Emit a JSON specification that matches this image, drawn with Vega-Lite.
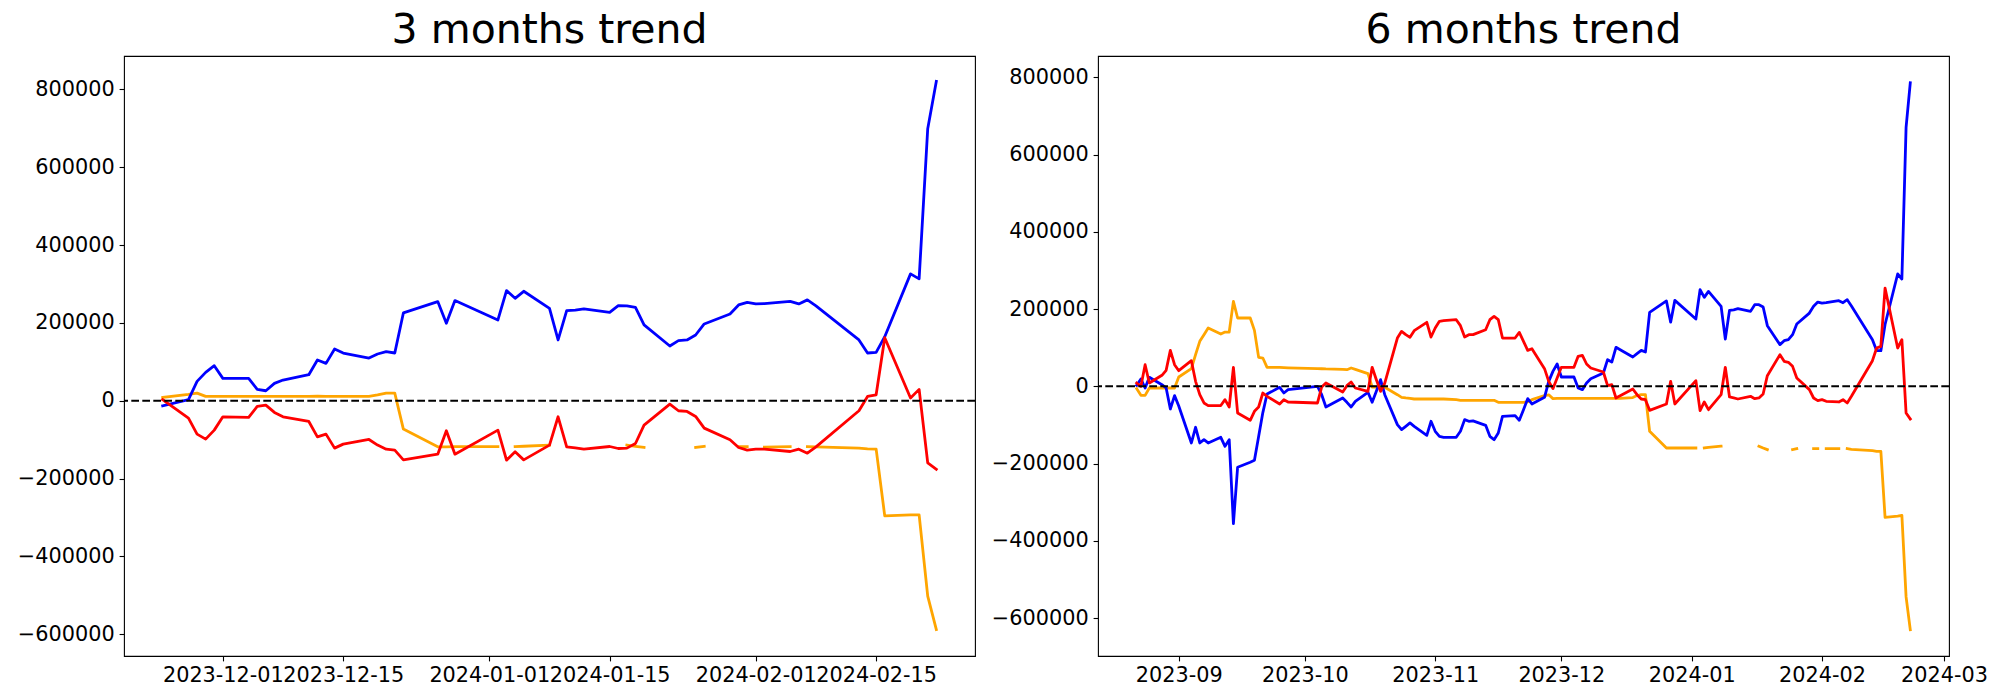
{
  "$schema": "https://vega.github.io/schema/vega-lite/v6.json",
  "background": "white",
  "padding": {"left": 16, "top": 9, "right": 0, "bottom": 0},
  "bounds": "flush",
  "spacing": 123,
  "config": {
    "font": "DejaVu Sans",
    "view": {"stroke": "black", "strokeWidth": 1.1, "fill": "white"},
    "axis": {"domain": false, "grid": false, "labelFont": "DejaVu Sans", "labelFontSize": 20.8, "labelColor": "black", "tickColor": "black", "tickSize": 4.9, "tickWidth": 1.1, "labelPadding": 4.9, "labelFlush": false, "labelOverlap": false, "labelBound": false},
    "title": {"font": "DejaVu Sans", "fontSize": 41, "fontWeight": "normal", "color": "black", "anchor": "middle", "frame": "group", "baseline": "alphabetic", "offset": 4}
  },
  "datasets": {
    "m3": [
      {"date": "2023-11-24", "blue": -13000, "red": 3000, "orange": 8600},
      {"date": "2023-11-27", "blue": 3000, "red": -44600, "orange": 16300},
      {"date": "2023-11-28", "blue": 49800, "red": -85800, "orange": 19700},
      {"date": "2023-11-29", "blue": 72900, "red": -98700, "orange": 11100},
      {"date": "2023-11-30", "blue": 90000, "red": -75500, "orange": 11100},
      {"date": "2023-12-01", "blue": 57500, "red": -41200, "orange": 11100},
      {"date": "2023-12-04", "blue": 57500, "red": -42900, "orange": 11100},
      {"date": "2023-12-05", "blue": 29200, "red": -14600, "orange": 11100},
      {"date": "2023-12-06", "blue": 25700, "red": -11200, "orange": 11100},
      {"date": "2023-12-07", "blue": 44600, "red": -30000, "orange": 11100},
      {"date": "2023-12-08", "blue": 53200, "red": -41200, "orange": 11100},
      {"date": "2023-12-11", "blue": 66900, "red": -53200, "orange": 11100},
      {"date": "2023-12-12", "blue": 104700, "red": -92700, "orange": 11600},
      {"date": "2023-12-13", "blue": 96000, "red": -85800, "orange": 11100},
      {"date": "2023-12-14", "blue": 133000, "red": -121800, "orange": 11100},
      {"date": "2023-12-15", "blue": 122700, "red": -111500, "orange": 11100},
      {"date": "2023-12-18", "blue": 109800, "red": -99500, "orange": 11100},
      {"date": "2023-12-19", "blue": 120100, "red": -114000, "orange": 15000},
      {"date": "2023-12-20", "blue": 126000, "red": -124400, "orange": 19700},
      {"date": "2023-12-21", "blue": 122700, "red": -127000, "orange": 19700},
      {"date": "2023-12-22", "blue": 225700, "red": -151900, "orange": -72900},
      {"date": "2023-12-26", "blue": 254800, "red": -137300, "orange": -118400},
      {"date": "2023-12-27", "blue": 199000, "red": -77200, "orange": -118400},
      {"date": "2023-12-28", "blue": 257400, "red": -137300, "orange": -118000},
      {"date": "2024-01-02", "blue": 207700, "red": -75500, "orange": -118000},
      {"date": "2024-01-03", "blue": 283000, "red": -152700, "orange": null},
      {"date": "2024-01-04", "blue": 263300, "red": -131300, "orange": -118000},
      {"date": "2024-01-05", "blue": 281300, "red": -151900, "orange": -117000},
      {"date": "2024-01-08", "blue": 237600, "red": -114000, "orange": -114000},
      {"date": "2024-01-09", "blue": 156200, "red": -41200, "orange": null},
      {"date": "2024-01-10", "blue": 231700, "red": -118400, "orange": null},
      {"date": "2024-01-11", "blue": 233000, "red": -121000, "orange": null},
      {"date": "2024-01-12", "blue": 236000, "red": -124400, "orange": null},
      {"date": "2024-01-15", "blue": 227300, "red": -117600, "orange": null},
      {"date": "2024-01-16", "blue": 244500, "red": -122700, "orange": null},
      {"date": "2024-01-17", "blue": 243700, "red": -121800, "orange": -114000},
      {"date": "2024-01-18", "blue": 240200, "red": -109800, "orange": -117000},
      {"date": "2024-01-19", "blue": 194800, "red": -62600, "orange": -120000},
      {"date": "2024-01-22", "blue": 140800, "red": -8600, "orange": null},
      {"date": "2024-01-23", "blue": 154400, "red": -25700, "orange": null},
      {"date": "2024-01-24", "blue": 156200, "red": -27500, "orange": null},
      {"date": "2024-01-25", "blue": 169000, "red": -40300, "orange": -120000},
      {"date": "2024-01-26", "blue": 197400, "red": -70300, "orange": -117000},
      {"date": "2024-01-29", "blue": 223100, "red": -100400, "orange": null},
      {"date": "2024-01-30", "blue": 246200, "red": -120100, "orange": -118000},
      {"date": "2024-01-31", "blue": 253000, "red": -127000, "orange": -118000},
      {"date": "2024-02-01", "blue": 248900, "red": -124400, "orange": null},
      {"date": "2024-02-02", "blue": 249700, "red": -124400, "orange": -119000},
      {"date": "2024-02-05", "blue": 255600, "red": -130400, "orange": -118000},
      {"date": "2024-02-06", "blue": 248900, "red": -124400, "orange": null},
      {"date": "2024-02-07", "blue": 259200, "red": -134700, "orange": -118000},
      {"date": "2024-02-08", "blue": 243800, "red": -118400, "orange": -118400},
      {"date": "2024-02-13", "blue": 156200, "red": -25700, "orange": -121800},
      {"date": "2024-02-14", "blue": 122700, "red": 11100, "orange": -123500},
      {"date": "2024-02-15", "blue": 124400, "red": 15400, "orange": -124400},
      {"date": "2024-02-16", "blue": 164700, "red": 162000, "orange": -296000},
      {"date": "2024-02-19", "blue": 326000, "red": 6900, "orange": -293400},
      {"date": "2024-02-20", "blue": 313200, "red": 29200, "orange": -293400},
      {"date": "2024-02-21", "blue": 699300, "red": -159600, "orange": -502000},
      {"date": "2024-02-22", "blue": 821000, "red": -175900, "orange": -587700}
    ],
    "m6": [
      {"date": "2023-08-22", "blue": 2600, "red": 8600, "orange": -6000},
      {"date": "2023-08-23", "blue": 18900, "red": 0, "orange": -23300},
      {"date": "2023-08-24", "blue": -4300, "red": 56000, "orange": -23300},
      {"date": "2023-08-25", "blue": 23300, "red": 8600, "orange": -4300},
      {"date": "2023-08-28", "blue": 4300, "red": 28500, "orange": -4300},
      {"date": "2023-08-29", "blue": -4300, "red": 41400, "orange": -4300},
      {"date": "2023-08-30", "blue": -58600, "red": 93100, "orange": -4300},
      {"date": "2023-08-31", "blue": -24100, "red": 56000, "orange": -4300},
      {"date": "2023-09-01", "blue": -50900, "red": 40500, "orange": 24100},
      {"date": "2023-09-04", "blue": -146600, "red": 66400, "orange": 45700},
      {"date": "2023-09-05", "blue": -106000, "red": 12900, "orange": 82000},
      {"date": "2023-09-06", "blue": -146600, "red": -21600, "orange": 116400},
      {"date": "2023-09-07", "blue": -138000, "red": -43100, "orange": 133700},
      {"date": "2023-09-08", "blue": -146600, "red": -50000, "orange": 150900},
      {"date": "2023-09-11", "blue": -131900, "red": -49600, "orange": 135400},
      {"date": "2023-09-12", "blue": -155200, "red": -34500, "orange": 140500},
      {"date": "2023-09-13", "blue": -138000, "red": -53500, "orange": 140500},
      {"date": "2023-09-14", "blue": -355300, "red": 49200, "orange": 219900},
      {"date": "2023-09-15", "blue": -209500, "red": -69000, "orange": 176800},
      {"date": "2023-09-18", "blue": -196600, "red": -88000, "orange": 176800},
      {"date": "2023-09-19", "blue": -191400, "red": -64700, "orange": 144900},
      {"date": "2023-09-20", "blue": -130000, "red": -53500, "orange": 75000},
      {"date": "2023-09-21", "blue": -68000, "red": -17200, "orange": 73300},
      {"date": "2023-09-22", "blue": -20000, "red": -25900, "orange": 49200},
      {"date": "2023-09-25", "blue": -2600, "red": -45700, "orange": 49200},
      {"date": "2023-09-26", "blue": -17200, "red": -34500, "orange": 48500},
      {"date": "2023-09-27", "blue": -8600, "red": -40500, "orange": 48000},
      {"date": "2023-10-04", "blue": 0, "red": -43100, "orange": 46000},
      {"date": "2023-10-05", "blue": -21600, "red": -1700, "orange": 45500},
      {"date": "2023-10-06", "blue": -53500, "red": 8600, "orange": 45000},
      {"date": "2023-10-10", "blue": -30200, "red": -14700, "orange": 44000},
      {"date": "2023-10-11", "blue": -41400, "red": 1700, "orange": 43100},
      {"date": "2023-10-12", "blue": -53500, "red": 11200, "orange": 47400},
      {"date": "2023-10-13", "blue": -38800, "red": -4300, "orange": 44000},
      {"date": "2023-10-16", "blue": -15500, "red": -12900, "orange": 32800},
      {"date": "2023-10-17", "blue": -41400, "red": 49200, "orange": -1700},
      {"date": "2023-10-18", "blue": -12900, "red": 17200, "orange": -1700},
      {"date": "2023-10-19", "blue": 17200, "red": -12900, "orange": -1700},
      {"date": "2023-10-20", "blue": -21600, "red": 8000, "orange": -2600},
      {"date": "2023-10-23", "blue": -99200, "red": 125000, "orange": -21600},
      {"date": "2023-10-24", "blue": -112100, "red": 142300, "orange": -28500},
      {"date": "2023-10-25", "blue": -103500, "red": 133700, "orange": -30000},
      {"date": "2023-10-26", "blue": -94800, "red": 126800, "orange": -31000},
      {"date": "2023-10-27", "blue": -103500, "red": 144000, "orange": -32800},
      {"date": "2023-10-30", "blue": -126800, "red": 165600, "orange": -32800},
      {"date": "2023-10-31", "blue": -90500, "red": 127600, "orange": -32800},
      {"date": "2023-11-01", "blue": -116400, "red": 150900, "orange": -32800},
      {"date": "2023-11-02", "blue": -129400, "red": 168200, "orange": -32800},
      {"date": "2023-11-03", "blue": -131900, "red": 169900, "orange": -32800},
      {"date": "2023-11-06", "blue": -131900, "red": 172500, "orange": -34500},
      {"date": "2023-11-07", "blue": -116400, "red": 157000, "orange": -36200},
      {"date": "2023-11-08", "blue": -86200, "red": 127600, "orange": -36200},
      {"date": "2023-11-09", "blue": -90500, "red": 133700, "orange": -36200},
      {"date": "2023-11-10", "blue": -89600, "red": 133700, "orange": -36200},
      {"date": "2023-11-13", "blue": -100900, "red": 146600, "orange": -36200},
      {"date": "2023-11-14", "blue": -129400, "red": 172500, "orange": -36200},
      {"date": "2023-11-15", "blue": -138000, "red": 181100, "orange": -36200},
      {"date": "2023-11-16", "blue": -120800, "red": 172500, "orange": -41400},
      {"date": "2023-11-17", "blue": -77600, "red": 125000, "orange": -41400},
      {"date": "2023-11-20", "blue": -75900, "red": 125000, "orange": -41400},
      {"date": "2023-11-21", "blue": -88000, "red": 139700, "orange": -41400},
      {"date": "2023-11-22", "blue": -60400, "red": 116400, "orange": -41400},
      {"date": "2023-11-23", "blue": -31900, "red": 93100, "orange": -40000},
      {"date": "2023-11-24", "blue": -45700, "red": 97400, "orange": -34500},
      {"date": "2023-11-27", "blue": -28500, "red": 45700, "orange": -24000},
      {"date": "2023-11-28", "blue": 12900, "red": 12900, "orange": -22000},
      {"date": "2023-11-29", "blue": 38800, "red": -6000, "orange": -31900},
      {"date": "2023-11-30", "blue": 57800, "red": 21600, "orange": -31000},
      {"date": "2023-12-01", "blue": 24100, "red": 49200, "orange": -31000},
      {"date": "2023-12-04", "blue": 24100, "red": 49200, "orange": -31000},
      {"date": "2023-12-05", "blue": -4300, "red": 77600, "orange": -31000},
      {"date": "2023-12-06", "blue": -8600, "red": 80200, "orange": -31000},
      {"date": "2023-12-07", "blue": 8600, "red": 57800, "orange": -31000},
      {"date": "2023-12-08", "blue": 19800, "red": 47400, "orange": -31000},
      {"date": "2023-12-11", "blue": 34500, "red": 37100, "orange": -31000},
      {"date": "2023-12-12", "blue": 69000, "red": 1700, "orange": -31000},
      {"date": "2023-12-13", "blue": 62900, "red": 4300, "orange": -31000},
      {"date": "2023-12-14", "blue": 100900, "red": -30200, "orange": -31000},
      {"date": "2023-12-15", "blue": 94800, "red": -24100, "orange": -31000},
      {"date": "2023-12-18", "blue": 75900, "red": -6900, "orange": -29000},
      {"date": "2023-12-19", "blue": 84500, "red": -21600, "orange": -24000},
      {"date": "2023-12-20", "blue": 93100, "red": -32800, "orange": -21600},
      {"date": "2023-12-21", "blue": 88800, "red": -34500, "orange": -21600},
      {"date": "2023-12-22", "blue": 191400, "red": -62100, "orange": -116400},
      {"date": "2023-12-26", "blue": 221000, "red": -45700, "orange": -159600},
      {"date": "2023-12-27", "blue": 166000, "red": 12900, "orange": -159600},
      {"date": "2023-12-28", "blue": 222500, "red": -45700, "orange": -159600},
      {"date": "2024-01-02", "blue": 174100, "red": 14700, "orange": -159600},
      {"date": "2024-01-03", "blue": 250100, "red": -62900, "orange": null},
      {"date": "2024-01-04", "blue": 230200, "red": -40500, "orange": -159600},
      {"date": "2024-01-05", "blue": 245800, "red": -60400, "orange": -158000},
      {"date": "2024-01-08", "blue": 207000, "red": -21600, "orange": -155000},
      {"date": "2024-01-09", "blue": 122400, "red": 49200, "orange": null},
      {"date": "2024-01-10", "blue": 196600, "red": -27600, "orange": null},
      {"date": "2024-01-11", "blue": 198000, "red": -30000, "orange": null},
      {"date": "2024-01-12", "blue": 201000, "red": -32800, "orange": null},
      {"date": "2024-01-15", "blue": 194000, "red": -25900, "orange": null},
      {"date": "2024-01-16", "blue": 211300, "red": -31900, "orange": null},
      {"date": "2024-01-17", "blue": 211300, "red": -30000, "orange": -155000},
      {"date": "2024-01-18", "blue": 205200, "red": -19800, "orange": -159600},
      {"date": "2024-01-19", "blue": 157000, "red": 27600, "orange": -163900},
      {"date": "2024-01-22", "blue": 107900, "red": 82000, "orange": null},
      {"date": "2024-01-23", "blue": 118200, "red": 64700, "orange": null},
      {"date": "2024-01-24", "blue": 120800, "red": 62100, "orange": null},
      {"date": "2024-01-25", "blue": 133700, "red": 51700, "orange": -163900},
      {"date": "2024-01-26", "blue": 161200, "red": 21600, "orange": -161300},
      {"date": "2024-01-29", "blue": 189600, "red": -8600, "orange": null},
      {"date": "2024-01-30", "blue": 207000, "red": -30200, "orange": -161300},
      {"date": "2024-01-31", "blue": 218100, "red": -37100, "orange": -161300},
      {"date": "2024-02-01", "blue": 215500, "red": -34500, "orange": null},
      {"date": "2024-02-02", "blue": 216400, "red": -38800, "orange": -161300},
      {"date": "2024-02-05", "blue": 221700, "red": -40500, "orange": -161300},
      {"date": "2024-02-06", "blue": 216400, "red": -34500, "orange": null},
      {"date": "2024-02-07", "blue": 224300, "red": -43100, "orange": -161300},
      {"date": "2024-02-08", "blue": 207800, "red": -25900, "orange": -163000},
      {"date": "2024-02-13", "blue": 120800, "red": 66400, "orange": -166500},
      {"date": "2024-02-14", "blue": 92300, "red": 99200, "orange": -168200},
      {"date": "2024-02-15", "blue": 92300, "red": 103500, "orange": -168200},
      {"date": "2024-02-16", "blue": 160000, "red": 254400, "orange": -339000},
      {"date": "2024-02-19", "blue": 290800, "red": 99200, "orange": -336000},
      {"date": "2024-02-20", "blue": 277800, "red": 120800, "orange": -334000},
      {"date": "2024-02-21", "blue": 670300, "red": -69000, "orange": -545000},
      {"date": "2024-02-22", "blue": 786000, "red": -84500, "orange": -630000}
    ]
  },
  "hconcat": [
    {
      "title": "3 months trend",
      "width": 851,
      "height": 600,
      "data": {"name": "m3"},
      "layer": [
        {
          "mark": {"type": "line", "color": "orange", "strokeWidth": 2.8, "strokeJoin": "round", "strokeCap": "square", "invalid": "break-paths-filter-domains"},
          "encoding": {
            "x": {"field": "date", "type": "temporal", "scale": {"type": "utc", "domain": [{"year": 2023, "month": 11, "date": 19, "hours": 12, "utc": true}, {"year": 2024, "month": 2, "date": 26, "hours": 12, "utc": true}]}, "axis": {"title": null, "format": "%Y-%m-%d", "labelAngle": 0, "values": [{"year": 2023, "month": 12, "date": 1, "utc": true}, {"year": 2023, "month": 12, "date": 15, "utc": true}, {"year": 2024, "month": 1, "date": 1, "utc": true}, {"year": 2024, "month": 1, "date": 15, "utc": true}, {"year": 2024, "month": 2, "date": 1, "utc": true}, {"year": 2024, "month": 2, "date": 15, "utc": true}]}},
            "y": {"field": "orange", "type": "quantitative", "scale": {"domain": [-656000, 886000], "nice": false, "zero": false}, "axis": {"title": null, "format": "d", "values": [-600000, -400000, -200000, 0, 200000, 400000, 600000, 800000]}}
          }
        },
        {
          "mark": {"type": "line", "color": "blue", "strokeWidth": 2.8, "strokeJoin": "round", "strokeCap": "square"},
          "encoding": {
            "x": {"field": "date", "type": "temporal"},
            "y": {"field": "blue", "type": "quantitative"}
          }
        },
        {
          "mark": {"type": "line", "color": "red", "strokeWidth": 2.8, "strokeJoin": "round", "strokeCap": "square"},
          "encoding": {
            "x": {"field": "date", "type": "temporal"},
            "y": {"field": "red", "type": "quantitative"}
          }
        },
        {
          "data": {"values": [{"v": 0}]},
          "mark": {"type": "rule", "color": "black", "strokeWidth": 2.08, "strokeDash": [7.7, 3.3]},
          "encoding": {"y": {"field": "v", "type": "quantitative"}}
        }
      ]
    },
    {
      "title": "6 months trend",
      "width": 851,
      "height": 600,
      "data": {"name": "m6"},
      "layer": [
        {
          "mark": {"type": "line", "color": "orange", "strokeWidth": 2.8, "strokeJoin": "round", "strokeCap": "square", "invalid": "break-paths-filter-domains"},
          "encoding": {
            "x": {"field": "date", "type": "temporal", "scale": {"type": "utc", "domain": [{"year": 2023, "month": 8, "date": 12, "hours": 19, "utc": true}, {"year": 2024, "month": 3, "date": 2, "hours": 5, "utc": true}]}, "axis": {"title": null, "format": "%Y-%m", "labelAngle": 0, "values": [{"year": 2023, "month": 9, "date": 1, "utc": true}, {"year": 2023, "month": 10, "date": 1, "utc": true}, {"year": 2023, "month": 11, "date": 1, "utc": true}, {"year": 2023, "month": 12, "date": 1, "utc": true}, {"year": 2024, "month": 1, "date": 1, "utc": true}, {"year": 2024, "month": 2, "date": 1, "utc": true}, {"year": 2024, "month": 3, "date": 1, "utc": true}]}},
            "y": {"field": "orange", "type": "quantitative", "scale": {"domain": [-698000, 855000], "nice": false, "zero": false}, "axis": {"title": null, "format": "d", "values": [-600000, -400000, -200000, 0, 200000, 400000, 600000, 800000]}}
          }
        },
        {
          "mark": {"type": "line", "color": "blue", "strokeWidth": 2.8, "strokeJoin": "round", "strokeCap": "square"},
          "encoding": {
            "x": {"field": "date", "type": "temporal"},
            "y": {"field": "blue", "type": "quantitative"}
          }
        },
        {
          "mark": {"type": "line", "color": "red", "strokeWidth": 2.8, "strokeJoin": "round", "strokeCap": "square"},
          "encoding": {
            "x": {"field": "date", "type": "temporal"},
            "y": {"field": "red", "type": "quantitative"}
          }
        },
        {
          "data": {"values": [{"v": 0}]},
          "mark": {"type": "rule", "color": "black", "strokeWidth": 2.08, "strokeDash": [7.7, 3.3]},
          "encoding": {"y": {"field": "v", "type": "quantitative"}}
        }
      ]
    }
  ]
}
